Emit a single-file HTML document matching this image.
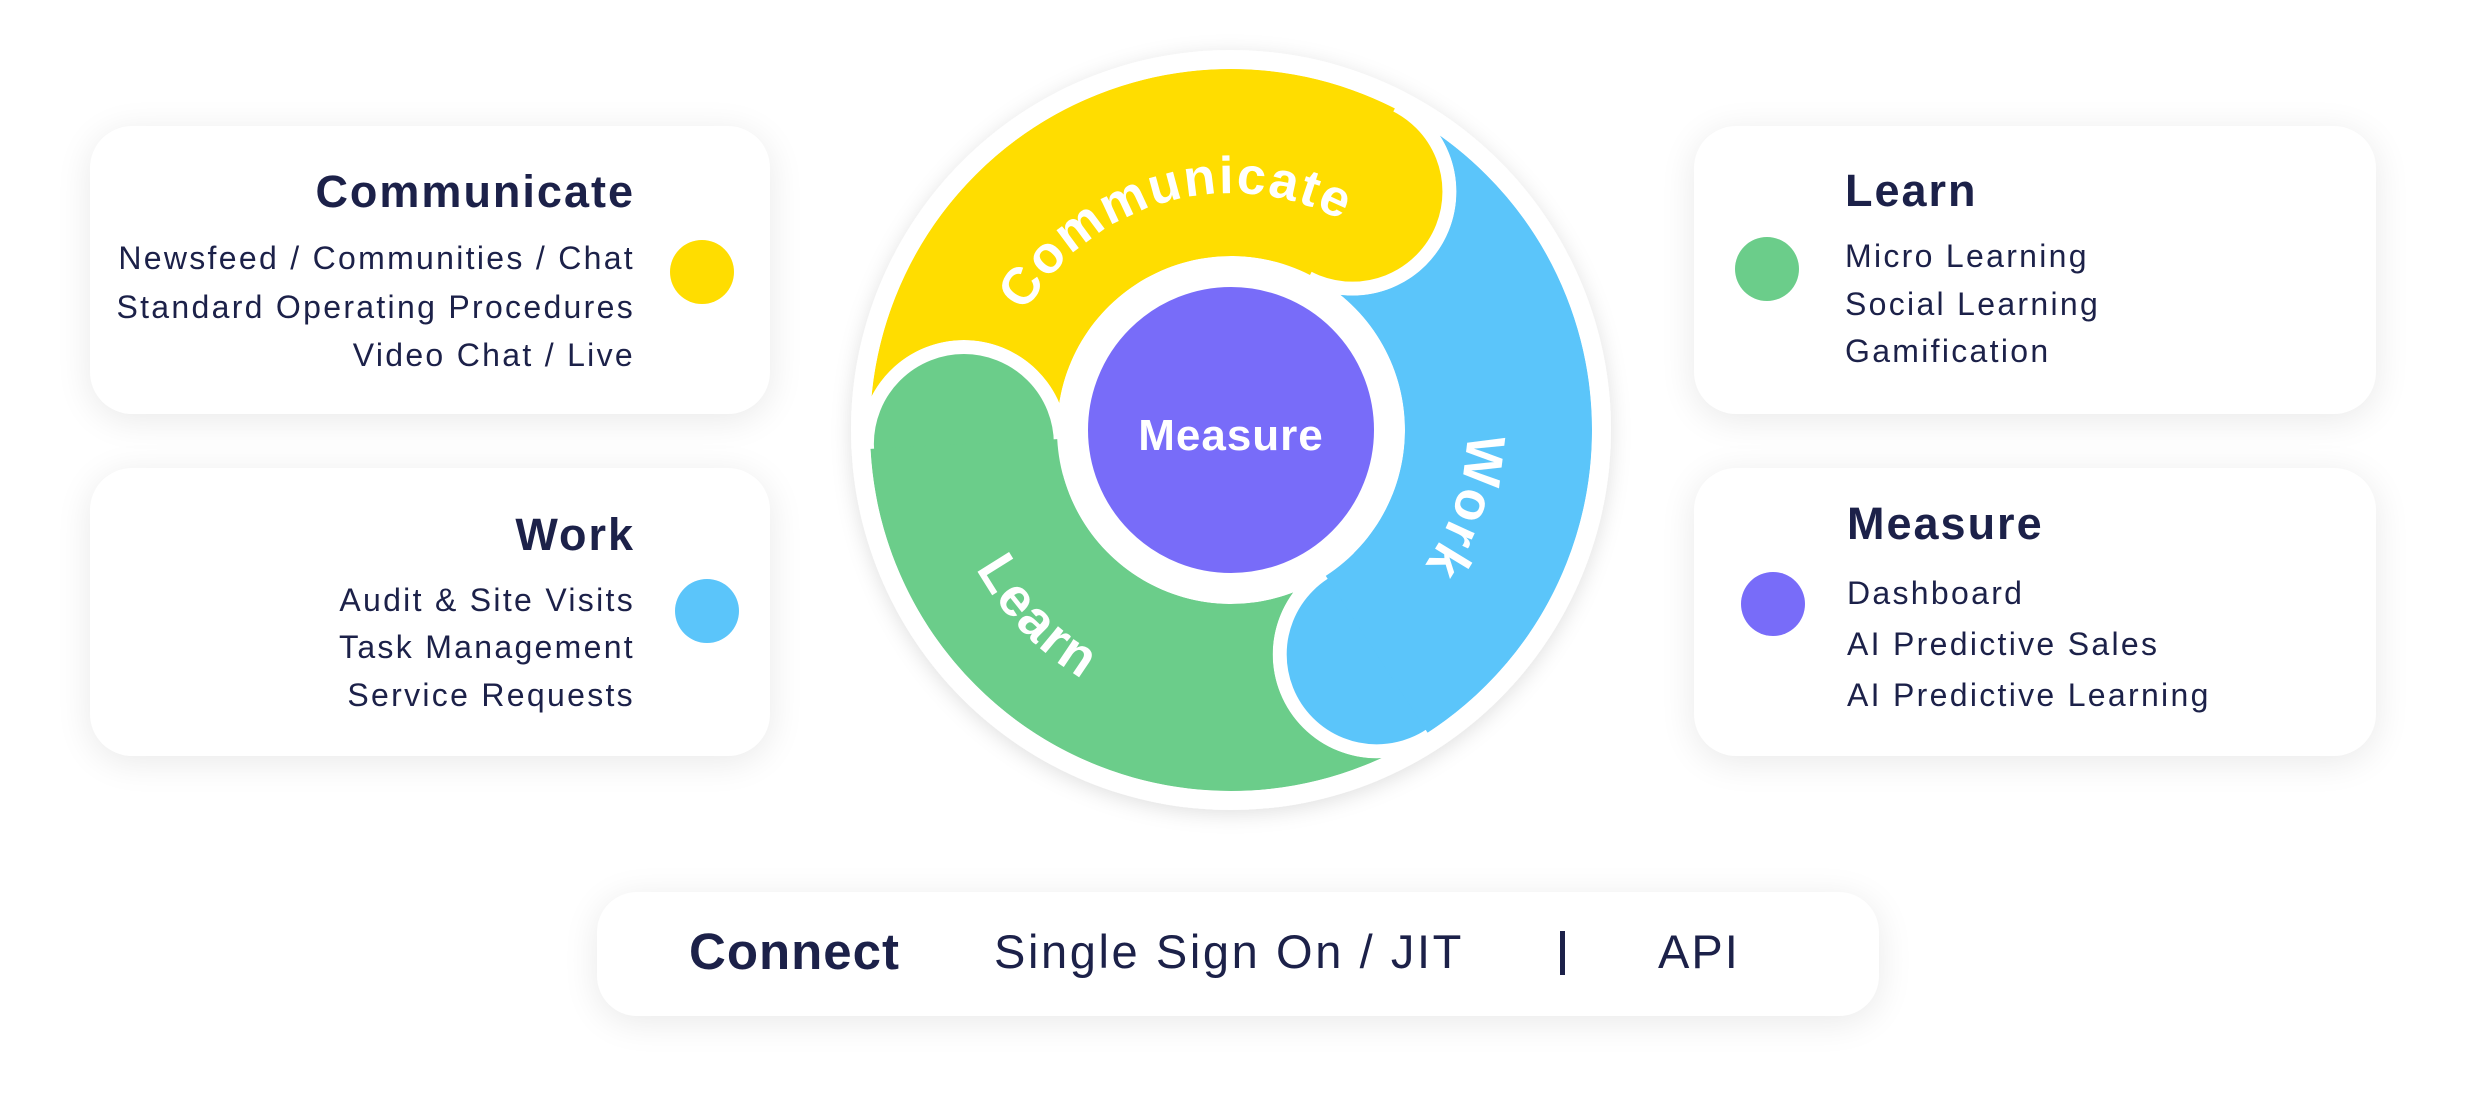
<!DOCTYPE html>
<html><head><meta charset="utf-8">
<style>
html,body{margin:0;padding:0;background:#fff;}
body{width:2481px;height:1102px;position:relative;overflow:hidden;font-family:"Liberation Sans",sans-serif;color:#1C2149;}
.card{position:absolute;background:#fff;border-radius:42px;box-shadow:0 6px 36px rgba(0,0,0,0.09);}
.t{position:absolute;font-weight:bold;font-size:45px;letter-spacing:2px;white-space:nowrap;}
.l{position:absolute;font-size:32px;letter-spacing:2.3px;white-space:nowrap;}
.r{text-align:right;}
.dot{position:absolute;width:64px;height:64px;border-radius:50%;}
</style></head><body>

<div class="card" style="left:90px;top:126px;width:680px;height:288px"></div>
<div class="card" style="left:90px;top:468px;width:680px;height:288px"></div>
<div class="card" style="left:1694px;top:126px;width:682px;height:288px"></div>
<div class="card" style="left:1694px;top:468px;width:682px;height:288px"></div>
<div class="card" style="left:597px;top:892px;width:1282px;height:124px;border-radius:40px"></div>

<div class="t r" style="right:1846px;top:166px">Communicate</div>
<div class="l r" style="right:1846px;top:240px">Newsfeed / Communities / Chat</div>
<div class="l r" style="right:1846px;top:289px">Standard Operating Procedures</div>
<div class="l r" style="right:1846px;top:337px">Video Chat / Live</div>
<div class="dot" style="left:670px;top:240px;background:#FFDD00"></div>

<div class="t r" style="right:1846px;top:509px">Work</div>
<div class="l r" style="right:1846px;top:582px">Audit &amp; Site Visits</div>
<div class="l r" style="right:1846px;top:629px">Task Management</div>
<div class="l r" style="right:1846px;top:677px">Service Requests</div>
<div class="dot" style="left:675px;top:579px;background:#5BC5FA"></div>

<div class="t" style="left:1845px;top:165px">Learn</div>
<div class="l" style="left:1845px;top:238px">Micro Learning</div>
<div class="l" style="left:1845px;top:286px">Social Learning</div>
<div class="l" style="left:1845px;top:333px">Gamification</div>
<div class="dot" style="left:1735px;top:237px;background:#6BCD8A"></div>

<div class="t" style="left:1847px;top:498px">Measure</div>
<div class="l" style="left:1847px;top:575px">Dashboard</div>
<div class="l" style="left:1847px;top:626px">AI Predictive Sales</div>
<div class="l" style="left:1847px;top:677px">AI Predictive Learning</div>
<div class="dot" style="left:1741px;top:572px;background:#786CF9"></div>

<div style="position:absolute;left:689px;top:922px;font-size:51px;font-weight:bold;letter-spacing:1px;white-space:nowrap">Connect</div>
<div style="position:absolute;left:994px;top:924px;font-size:47px;letter-spacing:2.6px;white-space:nowrap">Single Sign On / JIT</div>
<div style="position:absolute;left:1560px;top:931px;width:5px;height:44px;background:#1C2149"></div>
<div style="position:absolute;left:1658px;top:924px;font-size:47px;letter-spacing:2px;white-space:nowrap">API</div>

<svg style="position:absolute;left:0;top:0" width="2481" height="1102">
<defs>
<filter id="sh" x="-20%" y="-20%" width="140%" height="140%"><feDropShadow dx="0" dy="4" stdDeviation="10" flood-color="#000" flood-opacity="0.12"/></filter>
</defs>
<g transform="translate(1231,430)">
<circle r="380" fill="#fff" filter="url(#sh)"/>
<g id="ring"></g>
<circle r="150" fill="#786CF9" stroke="#fff" stroke-width="14"/>
<path id="pc" fill="none"/>
<path id="pw" fill="none"/>
<path id="pl" fill="none"/>
<text font-family="Liberation Sans,sans-serif" font-weight="bold" font-size="52" letter-spacing="2" fill="#fff" text-anchor="middle"><textPath href="#pc" startOffset="50%">Communicate</textPath></text>
<text font-family="Liberation Sans,sans-serif" font-weight="bold" font-size="54" letter-spacing="2" fill="#fff" text-anchor="middle"><textPath href="#pw" startOffset="50%">Work</textPath></text>
<text font-family="Liberation Sans,sans-serif" font-weight="bold" font-size="54" letter-spacing="2" fill="#fff" text-anchor="middle"><textPath href="#pl" startOffset="50%">Learn</textPath></text>
<text x="0" y="20" font-family="Liberation Sans,sans-serif" font-weight="bold" font-size="44" letter-spacing="1" fill="#fff" text-anchor="middle">Measure</text>
</g>
</svg>
<script>
(function(){
var ri=174, ro=361, rm=(ri+ro)/2, hr=97;
function p(r,a){a=a*Math.PI/180;return [r*Math.cos(a),r*Math.sin(a)];}
function sector(a1,a2){
 var s1=p(ro,a1),s2=p(ro,a2),s3=p(ri,a2),s4=p(ri,a1);
 var big=(a2-a1)>180?1:0;
 return "M"+s1+" A"+ro+","+ro+" 0 "+big+" 1 "+s2+" L"+s3+" A"+ri+","+ri+" 0 "+big+" 0 "+s4+"Z";
}
var segs=[[177,297,"#FFDD00"],[297,417,"#5BC5FA"],[57,177,"#6BCD8A"]];
var h="<defs>";
segs.forEach(function(s,i){
 var c=p(rm,s[0]);
 h+='<mask id="m'+i+'" maskUnits="userSpaceOnUse" x="-400" y="-400" width="800" height="800"><rect x="-400" y="-400" width="800" height="800" fill="#fff"/><circle cx="'+c[0]+'" cy="'+c[1]+'" r="'+(hr+7)+'" fill="#000"/></mask>';
});
h+="</defs>";
segs.forEach(function(s){h+='<path d="'+sector(s[0],s[1])+'" fill="'+s[2]+'"/>';});
segs.forEach(function(s){var c=p(rm,s[1]);h+='<circle cx="'+c[0]+'" cy="'+c[1]+'" r="'+hr+'" fill="'+s[2]+'" stroke="#fff" stroke-width="14"/>';});
segs.forEach(function(s,i){h+='<path d="'+sector(s[0],s[1])+'" fill="'+s[2]+'" mask="url(#m'+i+')"/>';});
h+='<circle r="'+(ri-4)+'" fill="#fff"/>';
h+='<circle r="'+(ro+6)+'" fill="none" stroke="#fff" stroke-width="12"/>';
document.getElementById("ring").innerHTML=h;
function arcCW(r,c){var a=p(r,c-90),b=p(r,c+90);return "M"+a+" A"+r+","+r+" 0 0 1 "+b;}
function arcCCW(r,c){var a=p(r,c+90),b=p(r,c-90);return "M"+a+" A"+r+","+r+" 0 0 0 "+b;}
document.getElementById("pc").setAttribute("d",arcCW(237,254));
document.getElementById("pw").setAttribute("d",arcCW(236,18));
document.getElementById("pl").setAttribute("d",arcCCW(290,136));
})();
</script>
</body></html>
